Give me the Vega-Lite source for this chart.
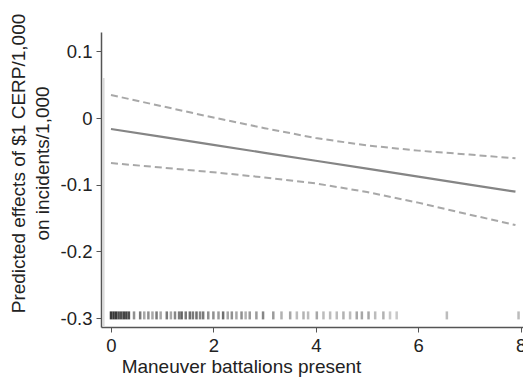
{
  "$schema": "https://vega.github.io/schema/vega-lite/v6.json",
  "width": 422,
  "height": 295,
  "autosize": {"type": "none"},
  "padding": {"left": 101, "top": 32, "right": 0, "bottom": 55},
  "background": "white",
  "config": {
    "view": {"stroke": null},
    "font": "Liberation Sans",
    "axis": {"grid": false, "domainColor": "#555", "domainWidth": 1.5, "tickColor": "#555", "tickSize": 5, "labelFont": "Liberation Sans", "titleFont": "Liberation Sans", "labelFontSize": 18.5, "titleFontSize": 19, "labelColor": "#222", "titleColor": "#222", "titleFontWeight": "normal"}
  },
  "datasets": {
    "lines": [
      {"x": 0, "s": "est", "y": -0.0165}, {"x": 1, "s": "est", "y": -0.0284}, {"x": 2, "s": "est", "y": -0.0403},
      {"x": 3, "s": "est", "y": -0.0522}, {"x": 4, "s": "est", "y": -0.0641}, {"x": 5, "s": "est", "y": -0.076},
      {"x": 6, "s": "est", "y": -0.0879}, {"x": 7, "s": "est", "y": -0.0998}, {"x": 7.9, "s": "est", "y": -0.1105},
      {"x": 0, "s": "upper", "y": 0.0345}, {"x": 1, "s": "upper", "y": 0.0176}, {"x": 2, "s": "upper", "y": 0.0007},
      {"x": 3, "s": "upper", "y": -0.0152}, {"x": 4, "s": "upper", "y": -0.0301}, {"x": 5, "s": "upper", "y": -0.041},
      {"x": 6, "s": "upper", "y": -0.0489}, {"x": 7, "s": "upper", "y": -0.0548}, {"x": 7.9, "s": "upper", "y": -0.0605},
      {"x": 0, "s": "lower", "y": -0.0675}, {"x": 1, "s": "lower", "y": -0.0744}, {"x": 2, "s": "lower", "y": -0.0813},
      {"x": 3, "s": "lower", "y": -0.0892}, {"x": 4, "s": "lower", "y": -0.0981}, {"x": 5, "s": "lower", "y": -0.111},
      {"x": 6, "s": "lower", "y": -0.1269}, {"x": 7, "s": "lower", "y": -0.1448}, {"x": 7.9, "s": "lower", "y": -0.1605}
    ],
    "rug": [
      {"x": 0, "w": 0.9}, {"x": 0.05, "w": 0.9}, {"x": 0.1, "w": 0.9}, {"x": 0.15, "w": 0.8}, {"x": 0.2, "w": 0.8},
      {"x": 0.25, "w": 0.85}, {"x": 0.3, "w": 0.85}, {"x": 0.35, "w": 0.8}, {"x": 0.45, "w": 0.5}, {"x": 0.57, "w": 0.6},
      {"x": 0.65, "w": 0.4}, {"x": 0.73, "w": 0.5}, {"x": 0.81, "w": 0.4}, {"x": 0.89, "w": 0.6}, {"x": 0.97, "w": 0.4},
      {"x": 1.09, "w": 0.6}, {"x": 1.17, "w": 0.4}, {"x": 1.25, "w": 0.55}, {"x": 1.33, "w": 0.6}, {"x": 1.38, "w": 0.7},
      {"x": 1.46, "w": 0.6}, {"x": 1.54, "w": 0.65}, {"x": 1.6, "w": 0.6}, {"x": 1.67, "w": 0.65}, {"x": 1.74, "w": 0.55},
      {"x": 1.8, "w": 0.6}, {"x": 1.9, "w": 0.5}, {"x": 2.0, "w": 0.5}, {"x": 2.1, "w": 0.45}, {"x": 2.19, "w": 0.65},
      {"x": 2.28, "w": 0.4}, {"x": 2.36, "w": 0.5}, {"x": 2.45, "w": 0.4}, {"x": 2.55, "w": 0.5}, {"x": 2.63, "w": 0.35},
      {"x": 2.71, "w": 0.45}, {"x": 2.84, "w": 0.45}, {"x": 2.97, "w": 0.55}, {"x": 3.17, "w": 0.45}, {"x": 3.33, "w": 0.35},
      {"x": 3.5, "w": 0.4}, {"x": 3.63, "w": 0.3}, {"x": 3.76, "w": 0.35}, {"x": 3.85, "w": 0.3}, {"x": 4.02, "w": 0.4},
      {"x": 4.15, "w": 0.3}, {"x": 4.28, "w": 0.3}, {"x": 4.41, "w": 0.3}, {"x": 4.54, "w": 0.35}, {"x": 4.67, "w": 0.3},
      {"x": 4.8, "w": 0.4}, {"x": 4.9, "w": 0.4}, {"x": 5.03, "w": 0.4}, {"x": 5.16, "w": 0.3}, {"x": 5.32, "w": 0.35},
      {"x": 5.45, "w": 0.25}, {"x": 5.58, "w": 0.25}, {"x": 6.56, "w": 0.3}, {"x": 7.96, "w": 0.3}
    ]
  },
  "layer": [
    {
      "data": {"values": [{"y": 0}]},
      "mark": {"type": "rule", "color": "#eeeeee", "strokeWidth": 1},
      "encoding": {"y": {"field": "y", "type": "quantitative"}}
    },
    {
      "data": {"values": [{"x": -0.14, "y": 0.06, "y2": -0.3134}]},
      "mark": {"type": "rule", "color": "#d8d8d8", "strokeWidth": 1.5},
      "encoding": {
        "x": {"field": "x", "type": "quantitative"},
        "y": {"field": "y", "type": "quantitative"},
        "y2": {"field": "y2"}
      }
    },
    {
      "data": {"name": "lines"},
      "transform": [{"filter": "datum.s !== 'est'"}],
      "mark": {"type": "line", "color": "#a8a8a8", "strokeWidth": 2, "strokeDash": [7, 4]},
      "encoding": {
        "x": {"field": "x", "type": "quantitative"},
        "y": {"field": "y", "type": "quantitative"},
        "detail": {"field": "s"}
      }
    },
    {
      "data": {"name": "lines"},
      "transform": [{"filter": "datum.s === 'est'"}],
      "mark": {"type": "line", "color": "#858585", "strokeWidth": 2.2},
      "encoding": {
        "x": {"field": "x", "type": "quantitative"},
        "y": {"field": "y", "type": "quantitative"}
      }
    },
    {
      "data": {"name": "rug"},
      "transform": [{"calculate": "-0.296", "as": "yy"}],
      "mark": {"type": "tick", "orient": "vertical", "color": "#222", "size": 8, "thickness": 2.5},
      "encoding": {
        "x": {"field": "x", "type": "quantitative"},
        "y": {"field": "yy", "type": "quantitative"},
        "opacity": {"field": "w", "type": "quantitative", "scale": {"domain": [0, 1], "range": [0, 1]}, "legend": null}
      }
    }
  ],
  "encoding": {
    "x": {
      "field": "x", "type": "quantitative",
      "scale": {"domain": [-0.195, 8.047], "nice": false, "zero": false},
      "axis": {"values": [0, 2, 4, 6, 8], "title": "Maneuver battalions present", "labelPadding": 4, "titlePadding": 3, "titleX": 140}
    },
    "y": {
      "field": "y", "type": "quantitative",
      "scale": {"domain": [-0.3134, 0.129], "nice": false, "zero": false},
      "axis": {"values": [-0.3, -0.2, -0.1, 0, 0.1], "labelExpr": "replace(format(datum.value, '.1~f'), '−', '-')", "title": ["Predicted effects of $1 CERP/1,000", "on incidents/1,000"], "titleLineHeight": 24, "labelPadding": 4, "titlePadding": 8, "titleY": 131}
    }
  }
}
